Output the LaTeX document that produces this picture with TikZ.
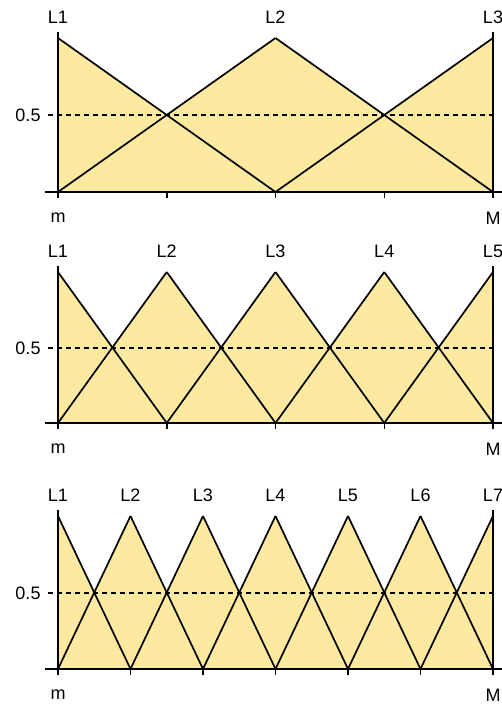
\documentclass[tikz,border=0pt]{standalone}
\usepackage{fontspec}
\setmainfont{Liberation Sans}
\definecolor{fuzzfill}{RGB}{253,234,160}
\tikzset{
  memb/.style={draw=black, line width=1.7pt, line join=miter},
  axisline/.style={draw=black, line width=1.9pt},
  halfline/.style={draw=black, line width=1.3pt, dash pattern=on 5pt off 4pt},
  lbl/.style={font=\fontsize{18}{21}\selectfont, inner sep=0pt, text=black},
}
\begin{document}
\begin{tikzpicture}[x=1pt, y=-1pt]
\useasboundingbox (0,0) rectangle (502,705);
\foreach \b/\p/\hh/\n/\t/\id in {192/38/115/2/4/a, 423/272/348/4/4/b, 669/516/593/6/6/c}{
  \pgfmathsetmacro\h{(\b+\p)/2}
  \pgfmathsetmacro\dx{435/\n}
  % fill under the envelope
  \fill[fuzzfill] (58,\b) -- (58,\p)
    \foreach \k in {1,...,\n}{ -- ({58+(\k-0.5)*\dx},\h) -- ({58+\k*\dx},\p) }
    -- (493,\b) -- cycle;
  % dashed 0.5 line
  \coordinate (hs\id) at (48,\hh);
  \coordinate (he\id) at (493,\hh);
  \draw[halfline] (hs\id) -- (he\id);
  % membership lines
  \foreach \k in {1,...,\n}{
    \draw[memb] ({58+(\k-1)*\dx},\p) -- ({58+\k*\dx},\b);
    \draw[memb] ({58+(\k-1)*\dx},\b) -- ({58+\k*\dx},\p);
  }
  % baseline
  \coordinate (bs\id) at (45,\b);
  \coordinate (be\id) at (502,\b);
  \draw[draw=black, line width=1.8pt] (bs\id) -- (be\id);
  % ticks
  \foreach \j in {1,...,\t}{
    \draw[draw=black, line width=1.5pt] ({58+\j*435/\t},\b) -- ({58+\j*435/\t},\b+6);
  }
  % vertical axes
  \coordinate (lt\id) at (58,\p-6);
  \coordinate (lb\id) at (58,\b+6);
  \coordinate (rt\id) at (493,\p-6);
  \coordinate (rb\id) at (493,\b+6);
  \draw[axisline] (lt\id) -- (lb\id);
  \draw[axisline] (rt\id) -- (rb\id);
  % labels
  \foreach \k in {0,...,\n}{
    \pgfmathtruncatemacro\lab{\k+1}
    \node[lbl] (L\id\lab) at ({58+\k*\dx},\p-21) {L\lab};
  }
  \node[lbl] (m\id) at (58,\b+26) {m};
  \node[lbl] (M\id) at (493,\b+26) {M};
  \node[lbl] (half\id) at (28,\hh) {0.5};
}
\end{tikzpicture}
\end{document}
